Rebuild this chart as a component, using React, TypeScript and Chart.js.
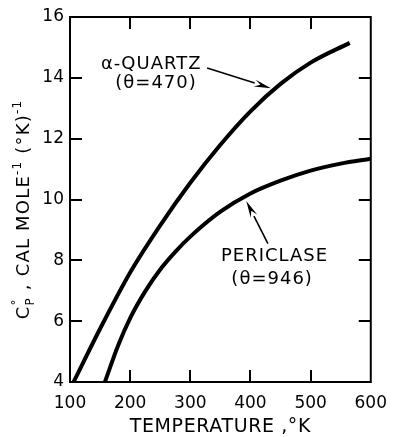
import React, { useEffect, useRef } from "react";
import { Chart, registerables } from "chart.js";

Chart.register(...registerables);

// Axis tick values
const xTickValues = [100, 200, 300, 400, 500, 600];
const yTickValues = [4, 6, 8, 10, 12, 14, 16];

// Heat capacity of alpha-quartz (T in K, Cp in cal/mol/K)
const quartzT = [106, 150, 200, 250, 300, 350, 400, 450, 500, 565];
const quartzCp = [4.0, 5.75, 7.6, 9.15, 10.55, 11.8, 12.9, 13.8, 14.5, 15.15];

// Heat capacity of periclase
const periclaseT = [158, 180, 200, 225, 250, 275, 300, 350, 400, 450, 500, 550, 600];
const periclaseCp = [4.0, 5.2, 6.1, 6.98, 7.7, 8.28, 8.78, 9.6, 10.2, 10.62, 10.95, 11.18, 11.34];

// Curve labels
const quartzLabel = ["α-QUARTZ", "(θ=470)"];
const periclaseLabel = ["PERICLASE", "(θ=946)"];

const FONT = '"DejaVu Sans", sans-serif';

type Note = {
  lines: string[];
  at: [number, number][];
  tail: [number, number];
  tip: [number, number];
};

const notes: Note[] = [
  { lines: quartzLabel, at: [[235, 14.45], [243, 13.83]], tail: [328, 14.32], tip: [434, 13.66] },
  { lines: periclaseLabel, at: [[440, 8.12], [436, 7.36]], tail: [429, 8.55], tip: [393, 9.95] },
];

const framePlugin = {
  id: "frameAndNotes",
  afterDatasetsDraw(chart: any) {
    const { ctx, chartArea: a, scales } = chart;
    const xs = scales.x;
    const ys = scales.y;
    ctx.save();
    ctx.strokeStyle = "#000";
    ctx.fillStyle = "#000";
    ctx.lineWidth = 2;
    ctx.lineCap = "butt";
    // top and right sides of the frame
    ctx.beginPath();
    ctx.moveTo(a.left - 1, a.top);
    ctx.lineTo(a.right, a.top);
    ctx.lineTo(a.right, a.bottom + 1);
    ctx.stroke();

    // inward tick marks on all four sides
    const tl = 12;
    ctx.beginPath();
    for (const v of yTickValues) {
      if (v === yTickValues[0] || v === yTickValues[yTickValues.length - 1]) continue;
      const py = Math.round(ys.getPixelForValue(v));
      ctx.moveTo(a.left, py);
      ctx.lineTo(a.left + tl, py);
      ctx.moveTo(a.right, py);
      ctx.lineTo(a.right - tl, py);
    }
    for (const v of xTickValues) {
      if (v === xTickValues[0] || v === xTickValues[xTickValues.length - 1]) continue;
      const px = Math.round(xs.getPixelForValue(v));
      ctx.moveTo(px, a.bottom);
      ctx.lineTo(px, a.bottom - tl);
      ctx.moveTo(px, a.top);
      ctx.lineTo(px, a.top + tl);
    }
    ctx.stroke();

    // curve labels with arrows
    ctx.font = `18px ${FONT}`;
    (ctx as any).letterSpacing = "1px";
    ctx.textAlign = "center";
    ctx.textBaseline = "middle";
    for (const n of notes) {
      n.lines.forEach((t, i) => {
        ctx.fillText(t, xs.getPixelForValue(n.at[i][0]), ys.getPixelForValue(n.at[i][1]));
      });
      const x0 = xs.getPixelForValue(n.tail[0]);
      const y0 = ys.getPixelForValue(n.tail[1]);
      const x1 = xs.getPixelForValue(n.tip[0]);
      const y1 = ys.getPixelForValue(n.tip[1]);
      const ang = Math.atan2(y1 - y0, x1 - x0);
      const hl = 17;
      const hw = 3.6;
      const bx = x1 - hl * Math.cos(ang);
      const by = y1 - hl * Math.sin(ang);
      ctx.lineWidth = 1.6;
      ctx.beginPath();
      ctx.moveTo(x0, y0);
      ctx.lineTo(bx, by);
      ctx.stroke();
      ctx.beginPath();
      ctx.moveTo(x1, y1);
      ctx.lineTo(bx + hw * Math.sin(ang), by - hw * Math.cos(ang));
      ctx.lineTo(bx + 0.35 * hl * Math.cos(ang), by + 0.35 * hl * Math.sin(ang));
      ctx.lineTo(bx - hw * Math.sin(ang), by + hw * Math.cos(ang));
      ctx.closePath();
      ctx.fill();
    }

    // x-axis title
    ctx.font = `19px ${FONT}`;
    (ctx as any).letterSpacing = "0.6px";
    ctx.textAlign = "center";
    ctx.textBaseline = "middle";
    ctx.fillText("TEMPERATURE ,°K", (a.left + a.right) / 2, a.bottom + 45);

    // rotated y-axis title: C°P , CAL MOLE⁻¹ (°K)⁻¹
    const cx = 22;
    const cy = (a.top + a.bottom) / 2 + 10;
    ctx.translate(cx, cy);
    ctx.rotate(-Math.PI / 2);
    ctx.textAlign = "left";
    ctx.textBaseline = "alphabetic";
    const big = `18px ${FONT}`;
    const small = `12px ${FONT}`;
    type Piece = { t: string; f: string; dy: number; adv?: boolean };
    const pieces: Piece[] = [
      { t: "C", f: big, dy: 0 },
      { t: "°", f: small, dy: -9, adv: false },
      { t: "P", f: small, dy: 5 },
      { t: " , CAL MOLE", f: big, dy: 0 },
      { t: "-1", f: small, dy: -8 },
      { t: " (°K)", f: big, dy: 0 },
      { t: "-1", f: small, dy: -8 },
    ];
    (ctx as any).letterSpacing = "1.2px";
    let total = 0;
    for (const p of pieces) {
      ctx.font = p.f;
      if (p.adv !== false) total += ctx.measureText(p.t).width;
    }
    let x = -total / 2;
    for (const p of pieces) {
      ctx.font = p.f;
      ctx.fillText(p.t, x, 6.5 + p.dy);
      if (p.adv !== false) x += ctx.measureText(p.t).width;
    }
    (ctx as any).letterSpacing = "0px";
    ctx.restore();
  },
};

export default function App() {
  const ref = useRef<HTMLCanvasElement | null>(null);

  useEffect(() => {
    if (!ref.current) return;
    const chart = new Chart(ref.current, {
      type: "line",
      data: {
        datasets: [
          {
            label: "alpha-quartz",
            data: quartzT.map((t, i) => ({ x: t, y: quartzCp[i] })),
            borderColor: "#000",
            borderWidth: 4,
            pointRadius: 0,
            cubicInterpolationMode: "monotone",
            fill: false,
          },
          {
            label: "periclase",
            data: periclaseT.map((t, i) => ({ x: t, y: periclaseCp[i] })),
            borderColor: "#000",
            borderWidth: 4,
            pointRadius: 0,
            cubicInterpolationMode: "monotone",
            fill: false,
          },
        ],
      },
      options: {
        responsive: false,
        animation: false,
        devicePixelRatio: 1,
        layout: { padding: { top: 17, right: 21, left: 0, bottom: 0 } },
        plugins: {
          legend: { display: false },
          tooltip: { enabled: false },
        },
        scales: {
          x: {
            type: "linear",
            min: 100,
            max: 600,
            afterBuildTicks: (s: any) => {
              s.ticks = xTickValues.map((v) => ({ value: v }));
            },
            afterFit: (s: any) => {
              s.height = 55;
            },
            grid: { display: false, drawTicks: false },
            border: { display: true, color: "#000", width: 2 },
            ticks: {
              color: "#000",
              padding: 11,
              font: { family: FONT, size: 17 },
            },
          },
          y: {
            type: "linear",
            min: 4,
            max: 16,
            afterBuildTicks: (s: any) => {
              s.ticks = yTickValues.map((v) => ({ value: v }));
            },
            afterFit: (s: any) => {
              s.width = 70;
            },
            grid: { display: false, drawTicks: false },
            border: { display: true, color: "#000", width: 2 },
            ticks: {
              color: "#000",
              padding: 6,
              font: { family: FONT, size: 17 },
            },
          },
        },
      },
      plugins: [framePlugin],
    });
    return () => chart.destroy();
  }, []);

  return (
    <div style={{ position: "fixed", left: 0, top: 0, width: 398, height: 437, background: "#fff" }}>
      <canvas ref={ref} width={398} height={437} style={{ display: "block" }} />
    </div>
  );
}
